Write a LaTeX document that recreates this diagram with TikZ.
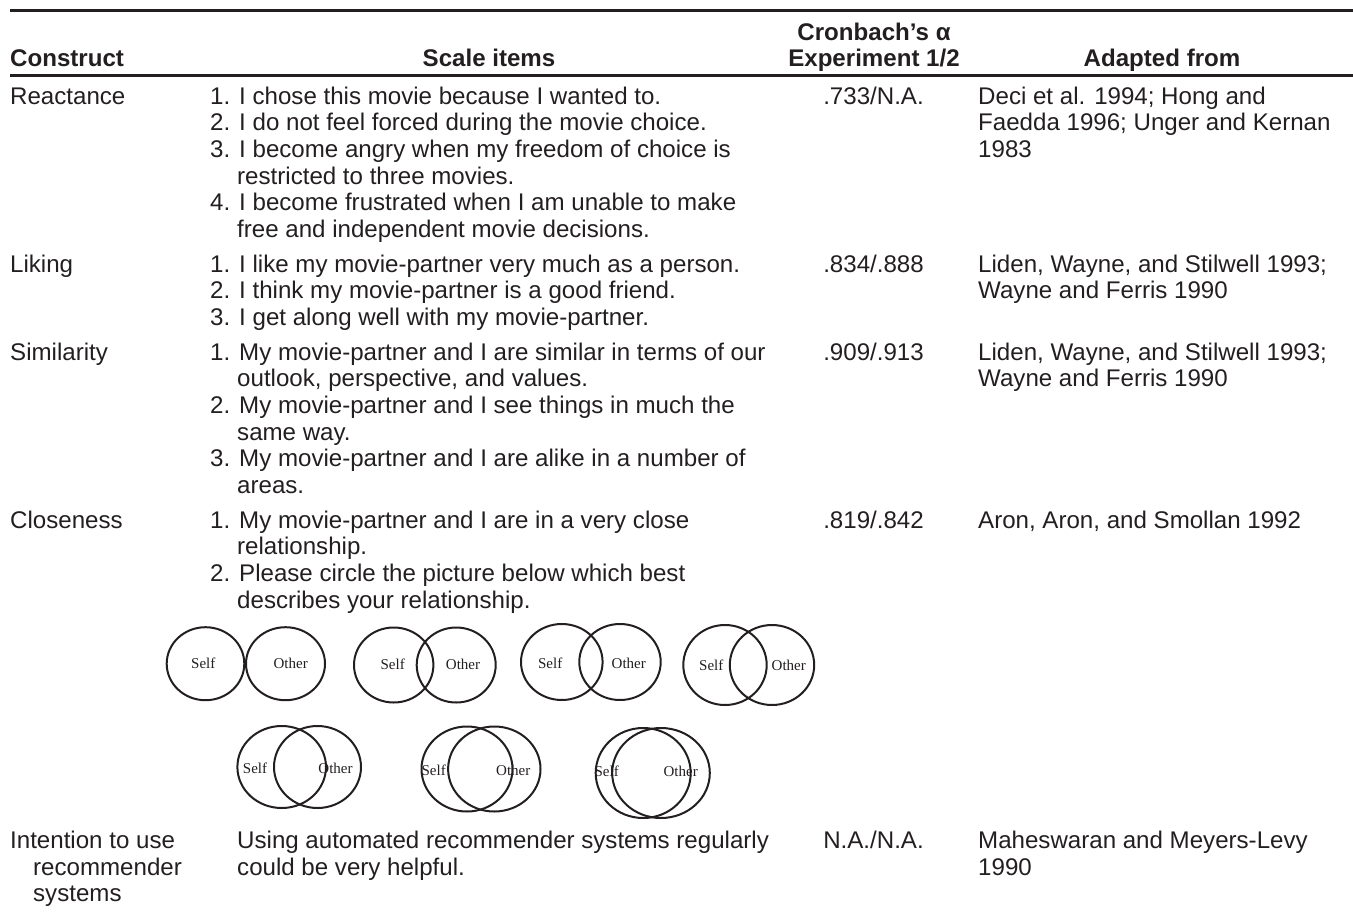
\documentclass[tikz,border=0pt]{standalone}
\usepackage{fontspec}
\setmainfont{Liberation Sans}
\newfontfamily\labserif{Liberation Serif}
\definecolor{ink}{HTML}{231F20}
\begin{document}
\begin{tikzpicture}[x=1pt,y=-1pt,
  txt/.style={anchor=base west,inner sep=0pt,text=ink,font=\fontsize{24.1}{26.7}\selectfont},
  ctr/.style={txt,anchor=base},
  hdr/.style={anchor=base,inner sep=0pt,text=ink,font=\fontsize{24.1}{26.7}\selectfont\bfseries},
  lab/.style={anchor=center,inner sep=0pt,text=ink,font=\fontsize{15}{16}\selectfont\labserif},
  ring/.style={draw=ink,line width=2pt},
  rule/.style={draw=ink,line width=3pt}]
\useasboundingbox (0,0) rectangle (1353,911);
% rules
\coordinate (t0) at (10,10); \coordinate (t1) at (1353,10);
\coordinate (h0) at (10,75); \coordinate (h1) at (1353,75);
\draw[rule] (t0) -- (t1);
\draw[rule] (h0) -- (h1);
% header
\node[hdr,anchor=base west] (hc) at (10,66) {Construct};
\node[hdr] (hs) at (489,66) {Scale items};
\node[hdr] (ha1) at (874,40) {Cronbach’s α};
\node[hdr] (ha2) at (874,66) {Experiment 1/2};
\node[hdr] (hf) at (1162,66) {Adapted from};
% Reactance
\node[txt] (c1) at (10,104) {Reactance};
\node[txt] (s1a) at (210,104) {1. I chose this movie because I wanted to.};
\node[txt] (s1b) at (210,130.7) {2. I do not feel forced during the movie choice.};
\node[txt] (s1c) at (210,157.3) {3. I become angry when my freedom of choice is};
\node[txt] (s1d) at (237,184) {restricted to three movies.};
\node[txt] (s1e) at (210,210.7) {4. I become frustrated when I am unable to make};
\node[txt] (s1f) at (237,237.3) {free and independent movie decisions.};
\node[ctr] (a1) at (873.5,104) {.733/N.A.};
\node[txt] (f1a) at (978,104) {Deci et al. 1994; Hong and};
\node[txt] (f1b) at (978,130.7) {Faedda 1996; Unger and Kernan};
\node[txt] (f1c) at (978,157.3) {1983};
% Liking
\node[txt] (c2) at (10,272) {Liking};
\node[txt] (s2a) at (210,272) {1. I like my movie-partner very much as a person.};
\node[txt] (s2b) at (210,298.7) {2. I think my movie-partner is a good friend.};
\node[txt] (s2c) at (210,325.3) {3. I get along well with my movie-partner.};
\node[ctr] (a2) at (873.5,272) {.834/.888};
\node[txt] (f2a) at (978,272) {Liden, Wayne, and Stilwell 1993;};
\node[txt] (f2b) at (978,298.7) {Wayne and Ferris 1990};
% Similarity
\node[txt] (c3) at (10,360) {Similarity};
\node[txt] (s3a) at (210,360) {1. My movie-partner and I are similar in terms of our};
\node[txt] (s3b) at (237,386.7) {outlook, perspective, and values.};
\node[txt] (s3c) at (210,413.3) {2. My movie-partner and I see things in much the};
\node[txt] (s3d) at (237,440) {same way.};
\node[txt] (s3e) at (210,466.7) {3. My movie-partner and I are alike in a number of};
\node[txt] (s3f) at (237,493.3) {areas.};
\node[ctr] (a3) at (873.5,360) {.909/.913};
\node[txt] (f3a) at (978,360) {Liden, Wayne, and Stilwell 1993;};
\node[txt] (f3b) at (978,386.7) {Wayne and Ferris 1990};
% Closeness
\node[txt] (c4) at (10,528) {Closeness};
\node[txt] (s4a) at (210,528) {1. My movie-partner and I are in a very close};
\node[txt] (s4b) at (237,554.7) {relationship.};
\node[txt] (s4c) at (210,581.3) {2. Please circle the picture below which best};
\node[txt] (s4d) at (237,608) {describes your relationship.};
\node[ctr] (a4) at (873.5,528) {.819/.842};
\node[txt] (f4a) at (978,528) {Aron, Aron, and Smollan 1992};
% circles row 1
\draw[ring] (205.5,663.7) ellipse (38.8 and 36.5);
\draw[ring] (285.5,663.7) ellipse (39.5 and 36.5);
\node[lab] (p1s) at (203.3,663.5) {Self};
\node[lab] (p1o) at (290.7,663.5) {Other};
\draw[ring] (393.7,665) ellipse (39.7 and 37.5);
\draw[ring] (456.2,665) ellipse (39.5 and 37.5);
\node[lab] (p2s) at (392.7,664.5) {Self};
\node[lab] (p2o) at (463,664.5) {Other};
\draw[ring] (561.8,662) ellipse (40.8 and 38);
\draw[ring] (620,662) ellipse (40.7 and 38);
\node[lab] (p3s) at (550.2,663) {Self};
\node[lab] (p3o) at (628.8,663) {Other};
\draw[ring] (725,665) ellipse (41.7 and 40);
\draw[ring] (772,665) ellipse (42.2 and 40);
\node[lab] (p4s) at (711.3,665) {Self};
\node[lab] (p4o) at (788.8,665) {Other};
% circles row 2
\draw[ring] (281.7,767) ellipse (44.3 and 41);
\draw[ring] (317.5,767) ellipse (43.5 and 41);
\node[lab] (p5s) at (255,768) {Self};
\node[lab] (p5o) at (335.5,768) {Other};
\draw[ring] (467,769) ellipse (45.5 and 42.5);
\draw[ring] (494.3,769) ellipse (46.2 and 42.5);
\node[lab] (p6s) at (433.7,770) {Self};
\node[lab] (p6o) at (513.3,770) {Other};
\draw[ring] (643.2,773) ellipse (47.5 and 45);
\draw[ring] (661,773) ellipse (48.8 and 45);
\node[lab] (p7s) at (606.7,771.5) {Self};
\node[lab] (p7o) at (680.7,771.5) {Other};
% Intention
\node[txt] (c5a) at (10,848.3) {Intention to use};
\node[txt] (c5b) at (33,875) {recommender};
\node[txt] (c5c) at (33,901.7) {systems};
\node[txt] (s5a) at (237,848.3) {Using automated recommender systems regularly};
\node[txt] (s5b) at (237,875) {could be very helpful.};
\node[ctr] (a5) at (873.5,848.3) {N.A./N.A.};
\node[txt] (f5a) at (978,848.3) {Maheswaran and Meyers-Levy};
\node[txt] (f5b) at (978,875) {1990};
\end{tikzpicture}
\end{document}
